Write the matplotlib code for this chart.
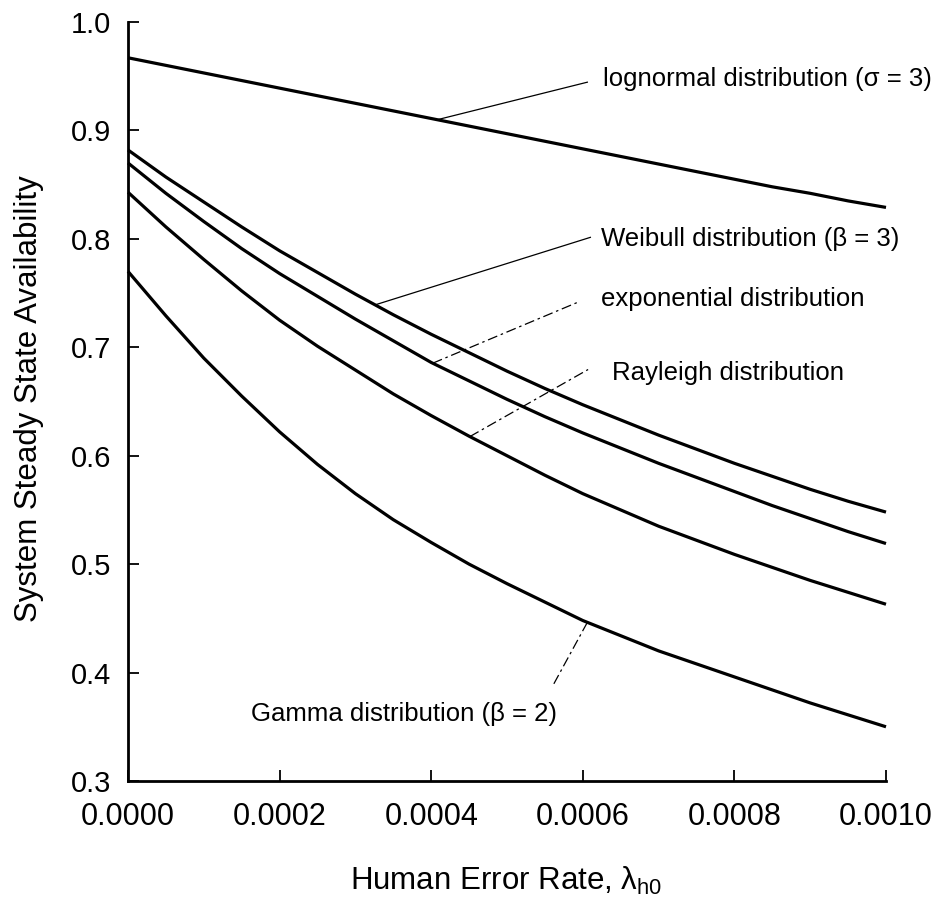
#----libraries----------------------------------------------------------
import numpy as np
import matplotlib
matplotlib.use('Agg')
import matplotlib.pyplot as plt
#----font settings------------------------------------------------------
plt.rcParams['font.family']=['Liberation Sans','DejaVu Sans']
plt.rcParams['mathtext.fontset']='custom'
plt.rcParams['mathtext.rm']='Liberation Sans'
plt.rcParams['mathtext.it']='Liberation Sans'
#----data (step 0.00005)-------------------------------------------------
LAMBDA=[0.0,0.00005,0.0001,0.00015,0.0002,0.00025,0.0003,0.00035,0.0004,0.00045,0.0005,
        0.00055,0.0006,0.00065,0.0007,0.00075,0.0008,0.00085,0.0009,0.00095,0.0010]
LOGNORMAL=[0.967,0.960,0.953,0.946,0.939,0.932,0.925,0.918,0.911,0.904,0.897,
           0.890,0.883,0.876,0.869,0.862,0.855,0.848,0.842,0.835,0.829]
WEIBULL=[0.882,0.857,0.834,0.811,0.789,0.769,0.749,0.730,0.712,0.695,0.678,
         0.662,0.647,0.633,0.619,0.606,0.593,0.581,0.569,0.558,0.548]
EXPONENTIAL=[0.870,0.842,0.816,0.791,0.768,0.747,0.726,0.706,0.686,0.669,0.652,
             0.636,0.621,0.607,0.593,0.580,0.567,0.554,0.542,0.530,0.519]
RAYLEIGH=[0.843,0.811,0.781,0.752,0.725,0.701,0.679,0.657,0.637,0.618,0.600,
          0.582,0.565,0.550,0.535,0.522,0.509,0.497,0.485,0.474,0.463]
GAMMA=[0.770,0.729,0.690,0.655,0.622,0.592,0.565,0.541,0.520,0.500,0.482,
       0.465,0.448,0.434,0.420,0.408,0.396,0.384,0.372,0.361,0.350]
XTICKS=[0.0,0.0002,0.0004,0.0006,0.0008,0.0010]
YTICKS=[0.3,0.4,0.5,0.6,0.7,0.8,0.9,1.0]
LABELS=['lognormal distribution (\u03c3 = 3)','Weibull distribution (\u03b2 = 3)',
        'exponential distribution','Rayleigh distribution','Gamma distribution (\u03b2 = 2)']
#----figure-------------------------------------------------------------
W,H=939,905
fig=plt.figure(figsize=(W/100,H/100),dpi=100)
ax=fig.add_axes([128/W,124/H,758/W,759/H])
SERIES=[LOGNORMAL,WEIBULL,EXPONENTIAL,RAYLEIGH,GAMMA]
for S in SERIES:
  ax.plot(LAMBDA,S,color='black',lw=2.3,solid_capstyle='butt',solid_joinstyle='round',clip_on=False)
ax.set_xlim(0,0.001)
ax.set_ylim(0.3,1.0)
ax.set_xticks(XTICKS)
ax.set_yticks(YTICKS)
ax.set_xticklabels([f'{v:.4f}' for v in XTICKS])
ax.set_yticklabels([f'{v:.1f}' for v in YTICKS])
ax.spines['top'].set_visible(False)
ax.spines['right'].set_visible(False)
ax.spines['left'].set_linewidth(2)
ax.spines['bottom'].set_linewidth(2)
ax.tick_params(axis='both',direction='in',length=8,width=1.3)
ax.tick_params(axis='x',pad=15,labelsize=22)
ax.tick_params(axis='y',pad=12,labelsize=21)
#----leader lines and labels---------------------------------------------
ANCHOR=[0.000408,0.000326,0.000402,0.000451,0.000606]      #x on curve
LEAD_END=[(0.000606,0.9445),(0.000610,0.8014),(0.000596,0.7423),(0.000607,0.6795),(0.000561,0.3886)]
TEXT_POS=[(0.000627,0.941),(0.000624,0.793),(0.000624,0.7377),(0.000639,0.670),(0.000162,0.3554)]
LSTYLE=['-','-',(0,(8,3,2,3)),(0,(8,3,2,3)),(0,(8,3,2,3))]
for S,a,e,t,lab,ls in zip(SERIES,ANCHOR,LEAD_END,TEXT_POS,LABELS,LSTYLE):
  ya=np.interp(a,LAMBDA,S)
  ax.plot([a,e[0]],[ya,e[1]],color='black',lw=0.9,ls=ls)
  ax.text(t[0],t[1],lab,fontsize=18.5,ha='left',va='baseline')
#----axis labels--------------------------------------------------------
fig.text(506/W,1-890/H,r'Human Error Rate, $\lambda_{\mathrm{h0}}$',fontsize=22.5,ha='center',va='baseline')
fig.text(29/W,1-399/H,'System Steady State Availability',fontsize=22.5,rotation=90,ha='center',va='center')
plt.savefig('out.png',dpi=100)
plt.close()
